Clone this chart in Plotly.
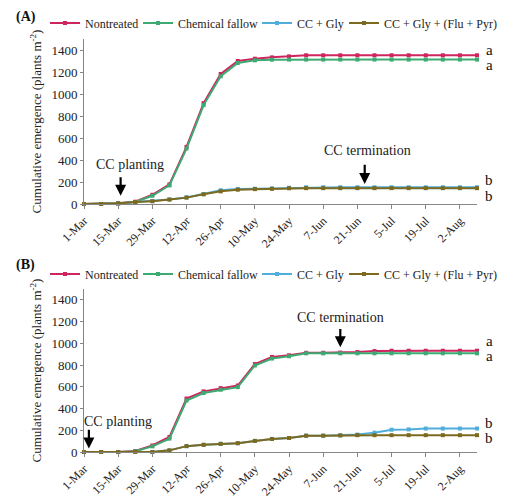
import plotly.graph_objects as go

# weekly sampling dates (year is arbitrary, only day-month is shown)
dates = ["2019-03-01", "2019-03-08", "2019-03-15", "2019-03-22", "2019-03-29",
         "2019-04-05", "2019-04-12", "2019-04-19", "2019-04-26", "2019-05-03",
         "2019-05-10", "2019-05-17", "2019-05-24", "2019-05-31", "2019-06-07",
         "2019-06-14", "2019-06-21", "2019-06-28", "2019-07-05", "2019-07-12",
         "2019-07-19", "2019-07-26", "2019-08-02", "2019-08-09"]

tick_dates = ["2019-03-01", "2019-03-15", "2019-03-29", "2019-04-12", "2019-04-26",
              "2019-05-10", "2019-05-24", "2019-06-07", "2019-06-21", "2019-07-05",
              "2019-07-19", "2019-08-02"]

series_names = ["Nontreated", "Chemical fallow", "CC + Gly", "CC + Gly + (Flu + Pyr)"]

# (A)
a_nontreated = [0, 0, 6, 21, 84, 178, 519, 917, 1182, 1300, 1321, 1333, 1342, 1352,
                1352, 1352, 1352, 1352, 1352, 1352, 1352, 1352, 1352, 1352]
a_fallow = [0, 0, 5, 18, 75, 169, 504, 899, 1161, 1282, 1306, 1312, 1313, 1313,
            1313, 1313, 1313, 1313, 1313, 1313, 1313, 1313, 1313, 1313]
a_ccgly = [0, 0, 6, 18, 27, 42, 60, 90, 125, 136, 139, 142, 148, 152,
           152, 152, 152, 152, 152, 152, 152, 152, 152, 152]
a_ccgly_flu = [0, 0, 6, 18, 25, 40, 58, 88, 115, 130, 135, 138, 143, 144,
               144, 144, 144, 144, 144, 144, 144, 144, 144, 144]

# (B)
b_nontreated = [0, 0, 0, 9, 60, 138, 492, 558, 588, 612, 809, 875, 890, 913,
                913, 915, 920, 929, 932, 932, 932, 932, 932, 932]
b_fallow = [0, 0, 0, 7, 52, 123, 474, 543, 573, 597, 796, 860, 881, 908,
            908, 908, 908, 908, 908, 908, 908, 908, 908, 908]
b_ccgly = [0, 0, 0, 0, 0, 15, 54, 66, 75, 81, 102, 120, 129, 150,
           150, 153, 160, 178, 205, 208, 216, 216, 216, 216]
b_ccgly_flu = [0, 0, 0, 0, 0, 15, 54, 66, 75, 81, 102, 120, 129, 150,
               150, 153, 155, 155, 155, 155, 155, 155, 155, 155]

colors = ["#D0245E", "#3DAA72", "#4FAEDC", "#7D6A1F"]
leg_widths = [48, 74, 42, None]

serif = "Liberation Serif"

# the page puts the figure 8px in from the top-left corner
OFF = 8
W, H = 517 - OFF, 500 - OFF


def px(x):
    return (x - OFF) / W


def py(y):
    return 1 - (y - OFF) / H


fig = go.Figure()

panels = [
    ("x", "y", "legend", [a_nontreated, a_fallow, a_ccgly, a_ccgly_flu]),
    ("x2", "y2", "legend2", [b_nontreated, b_fallow, b_ccgly, b_ccgly_flu]),
]
for xa, ya, leg, vals in panels:
    for i, name in enumerate(series_names):
        fig.add_trace(go.Scatter(
            x=dates, y=vals[i], name=name, mode="lines+markers",
            line=dict(color=colors[i], width=2),
            marker=dict(color=colors[i], size=4, symbol="square"),
            xaxis=xa, yaxis=ya, legend=leg, legendwidth=leg_widths[i],
            cliponaxis=False))

xcommon = dict(type="date", range=[dates[0], dates[-1]], tickvals=tick_dates,
               tickformat="%-d-%b", tickangle=-45, ticks="outside", ticklen=4,
               tickcolor="#868686", showline=True, linecolor="#868686",
               linewidth=1, showgrid=False, zeroline=False,
               domain=[px(84), px(477)], automargin=False,
               tickfont=dict(family=serif, size=12, color="#222"))
ycommon = dict(range=[0, 1500], tickvals=[0, 200, 400, 600, 800, 1000, 1200, 1400],
               ticks="outside", ticklen=3, tickcolor="#868686", showline=True,
               linecolor="#868686", linewidth=1, showgrid=False, zeroline=False,
               automargin=False,
               tickfont=dict(family=serif, size=13, color="#222"),
               title=dict(text="Cumulative emergence (plants m<sup>-2</sup>)",
                          font=dict(family=serif, size=13, color="#222"), standoff=6))

legcommon = dict(orientation="h", xanchor="left", yanchor="middle",
                 font=dict(family=serif, size=12, color="#222"),
                 itemwidth=30, tracegroupgap=0, bgcolor="rgba(0,0,0,0)")

fig.update_layout(
    width=W, height=H,
    margin=dict(l=0, r=0, t=0, b=0),
    font=dict(family=serif, color="#222"),
    paper_bgcolor="white", plot_bgcolor="white",
    xaxis=dict(xcommon, anchor="y"),
    yaxis=dict(ycommon, domain=[py(204), py(39)], anchor="x"),
    xaxis2=dict(xcommon, anchor="y2"),
    yaxis2=dict(ycommon, domain=[py(452), py(289)], anchor="x2"),
    legend=dict(legcommon, x=px(45), y=py(23)),
    legend2=dict(legcommon, x=px(45), y=py(274)),
)

ann = []
# panel labels
ann.append(dict(text="<b>(A)</b>", xref="paper", yref="paper", x=px(14), y=py(17),
                xanchor="left", yanchor="middle", showarrow=False,
                font=dict(family=serif, size=14, color="#111")))
ann.append(dict(text="<b>(B)</b>", xref="paper", yref="paper", x=px(14), y=py(265),
                xanchor="left", yanchor="middle", showarrow=False,
                font=dict(family=serif, size=14, color="#111")))

txtfont = dict(family=serif, size=14, color="#222")
# event labels and arrows
events = [
    ("x", "y", "CC planting", "2019-03-20", 360, "2019-03-16", 75, 256),
    ("x", "y", "CC termination", "2019-06-25", 482, "2019-06-24", 181, 371),
    ("x2", "y2", "CC planting", "2019-03-15", 282, "2019-03-03", 33, 219),
    ("x2", "y2", "CC termination", "2019-06-14", 1242, "2019-06-14", 965, 1145),
]
for xr, yr, label, tx, ty, axx, tip, tail in events:
    ann.append(dict(text=label, xref=xr, yref=yr, x=tx, y=ty, showarrow=False,
                    font=txtfont))
    ann.append(dict(text="", xref=xr, yref=yr, x=axx, y=tip, axref=xr, ayref=yr,
                    ax=axx, ay=tail, showarrow=True, arrowhead=2, arrowsize=1,
                    arrowwidth=2.2, arrowcolor="#000"))

# significance letters
letters = [("y", "a", 1400), ("y", "a", 1267), ("y", "b", 217), ("y", "b", 75),
           ("y2", "a", 1025), ("y2", "a", 884), ("y2", "b", 264), ("y2", "b", 129)]
for yr, t, yv in letters:
    ann.append(dict(text=t, xref="paper", yref=yr, x=px(489), y=yv, xanchor="center",
                    showarrow=False, font=dict(family=serif, size=15, color="#111")))

fig.update_layout(annotations=ann)

fig.write_html("out.html")
